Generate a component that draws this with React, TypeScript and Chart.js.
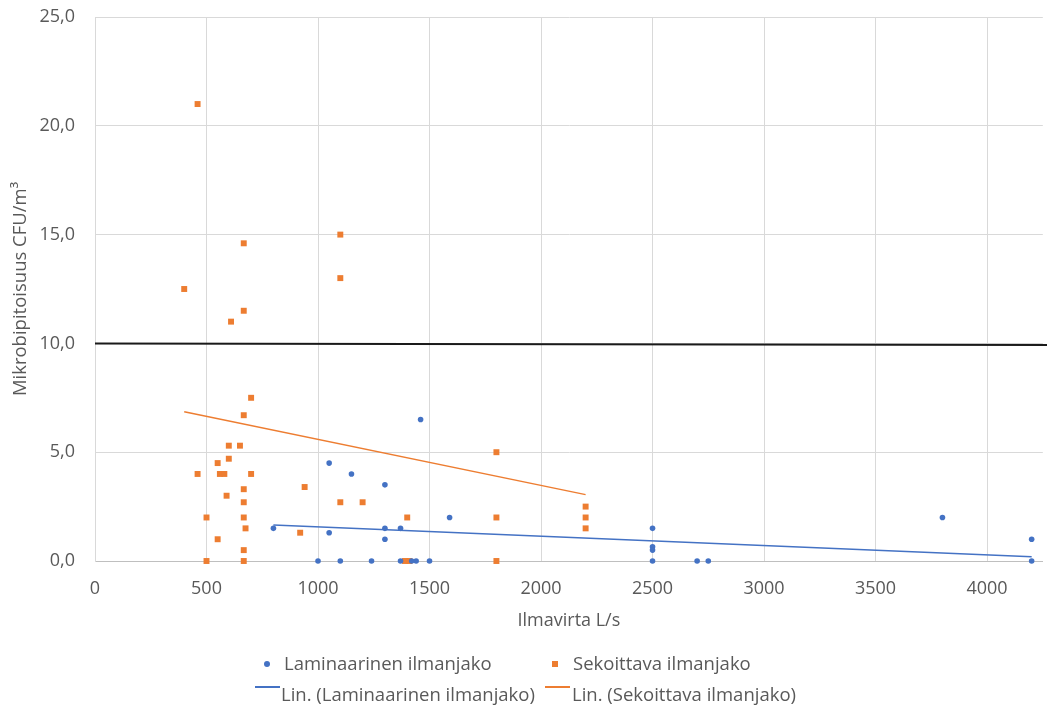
import React, { useEffect, useRef } from 'react';
import { Chart, registerables } from 'chart.js';

Chart.register(...registerables);

// Laminaarinen ilmanjako (blue dots)
const laminarX = [800, 1050, 1050, 1150, 1300, 1300, 1300, 1370, 1460, 1590, 2500, 2500, 2500, 3800, 4200,
  1000, 1100, 1240, 1370, 1420, 1440, 1500, 2500, 2700, 2750, 4200];
const laminarY = [1.5, 4.5, 1.3, 4.0, 3.5, 1.5, 1.0, 1.5, 6.5, 2.0, 1.5, 0.65, 0.5, 2.0, 1.0,
  0, 0, 0, 0, 0, 0, 0, 0, 0, 0, 0];

// Sekoittava ilmanjako (orange squares)
const mixedX = [400, 460, 460, 500, 500, 550, 550, 560, 580, 590, 600, 600, 610, 650,
  667, 667, 667, 667, 667, 667, 675, 667, 667, 700, 700, 920, 940, 1100, 1100, 1100, 1200,
  1400, 1390, 1410, 1800, 1800, 1800, 2200, 2200, 2200];
const mixedY = [12.5, 21.0, 4.0, 2.0, 0, 4.5, 1.0, 4.0, 4.0, 3.0, 5.3, 4.7, 11.0, 5.3,
  14.6, 11.5, 6.7, 3.3, 2.7, 2.0, 1.5, 0.5, 0, 7.5, 4.0, 1.3, 3.4, 15.0, 13.0, 2.7, 2.7,
  2.0, 0, 0, 5.0, 2.0, 0, 2.5, 2.0, 1.5];

// Linear trend lines (endpoints)
const laminarTrendX = [800, 4200];
const laminarTrendY = [1.65, 0.2];
const mixedTrendX = [400, 2200];
const mixedTrendY = [6.86, 3.05];

// Limit line
const limitX = [0, 4270];
const limitY = [10, 9.93];

const xTicks = [0, 500, 1000, 1500, 2000, 2500, 3000, 3500, 4000];
const yTicks = [0, 5, 10, 15, 20, 25];

const BLUE = '#4472C4';
const ORANGE = '#ED7D31';
const TEXT = '#595959';
const FONT = "'Open Sans', 'Liberation Sans', sans-serif";

const zip = (xs: number[], ys: number[]) => xs.map((x, i) => ({ x, y: ys[i] }));

export default function App() {
  const ref = useRef<HTMLCanvasElement | null>(null);

  useEffect(() => {
    if (!ref.current) return;
    const chart = new Chart(ref.current, {
      type: 'scatter',
      data: {
        datasets: [
          {
            label: 'Raja',
            data: zip(limitX, limitY),
            showLine: true,
            borderColor: '#1a1a1a',
            borderWidth: 2,
            pointRadius: 0,
            clip: false,
          },
          {
            label: 'Lin. (Laminaarinen ilmanjako)',
            data: zip(laminarTrendX, laminarTrendY),
            showLine: true,
            borderColor: BLUE,
            borderWidth: 1.5,
            pointRadius: 0,
          },
          {
            label: 'Lin. (Sekoittava ilmanjako)',
            data: zip(mixedTrendX, mixedTrendY),
            showLine: true,
            borderColor: ORANGE,
            borderWidth: 1.5,
            pointRadius: 0,
          },
          {
            label: 'Laminaarinen ilmanjako',
            data: zip(laminarX, laminarY),
            pointStyle: 'circle',
            pointRadius: 2.8,
            backgroundColor: BLUE,
            borderColor: BLUE,
            borderWidth: 0,
            clip: false,
          },
          {
            label: 'Sekoittava ilmanjako',
            data: zip(mixedX, mixedY),
            pointStyle: 'rect',
            pointRadius: 4.2,
            backgroundColor: ORANGE,
            borderColor: ORANGE,
            borderWidth: 0,
            clip: false,
          },
        ],
      },
      options: {
        animation: false,
        responsive: false,
        maintainAspectRatio: false,
        layout: { padding: { top: 17, right: 0, bottom: 75, left: 0 } },
        plugins: {
          legend: { display: false },
          tooltip: { enabled: false },
        },
        scales: {
          x: {
            type: 'linear',
            min: 0,
            max: 4250,
            afterBuildTicks: (s: any) => {
              s.ticks = xTicks.map((v) => ({ value: v }));
            },
            afterFit: (s: any) => {
              s.height = 75;
              s.paddingLeft = 0;
              s.paddingRight = 0;
            },
            ticks: {
              font: { family: FONT, size: 18 },
              color: TEXT,
              padding: 17,
              maxRotation: 0,
              autoSkip: false,
              callback: (v: any) => String(v),
            },
            grid: { color: '#d9d9d9', lineWidth: 1, drawTicks: false },
            border: { color: '#bfbfbf', width: 1 },
            title: {
              display: true,
              text: 'Ilmavirta L/s',
              font: { family: FONT, size: 18 },
              color: TEXT,
              padding: { top: 0, bottom: 4 },
            },
          },
          y: {
            type: 'linear',
            min: 0,
            max: 25,
            afterBuildTicks: (s: any) => {
              s.ticks = yTicks.map((v) => ({ value: v }));
            },
            afterFit: (s: any) => {
              s.width = 95;
              s.paddingTop = 0;
              s.paddingBottom = 0;
            },
            ticks: {
              font: { family: FONT, size: 18 },
              color: TEXT,
              padding: 20,
              callback: (v: any) => Number(v).toFixed(1).replace('.', ','),
            },
            grid: { color: '#d9d9d9', lineWidth: 1, drawTicks: false },
            border: { color: '#d9d9d9', width: 1 },
            title: {
              display: true,
              text: 'Mikrobipitoisuus CFU/m³',
              font: { family: FONT, size: 18.5 },
              color: TEXT,
              padding: { top: 10, bottom: 0 },
            },
          },
        },
      },
    });
    return () => chart.destroy();
  }, []);

  const textStyle: React.CSSProperties = {
    position: 'absolute',
    fontFamily: FONT,
    fontSize: '18.5px',
    lineHeight: '20px',
    color: TEXT,
    whiteSpace: 'nowrap',
  };

  return (
    <div style={{ position: 'absolute', left: 0, top: 0, width: 1047, height: 711, background: '#fff', overflow: 'hidden' }}>
      <canvas ref={ref} width={1047} height={711} style={{ display: 'block' }} />
      <div style={{ position: 'absolute', left: 264, top: 661, width: 6, height: 6, borderRadius: 3, background: BLUE }} />
      <span style={{ ...textStyle, left: 284, top: 653 }}>Laminaarinen ilmanjako</span>
      <div style={{ position: 'absolute', left: 552, top: 661, width: 6, height: 6, background: ORANGE }} />
      <span style={{ ...textStyle, left: 573, top: 653 }}>Sekoittava ilmanjako</span>
      <div style={{ position: 'absolute', left: 255, top: 686, width: 25, height: 2, background: BLUE }} />
      <span style={{ ...textStyle, left: 281, top: 684 }}>Lin. (Laminaarinen ilmanjako)</span>
      <div style={{ position: 'absolute', left: 545, top: 686, width: 25, height: 2, background: ORANGE }} />
      <span style={{ ...textStyle, left: 572, top: 684 }}>Lin. (Sekoittava ilmanjako)</span>
    </div>
  );
}
